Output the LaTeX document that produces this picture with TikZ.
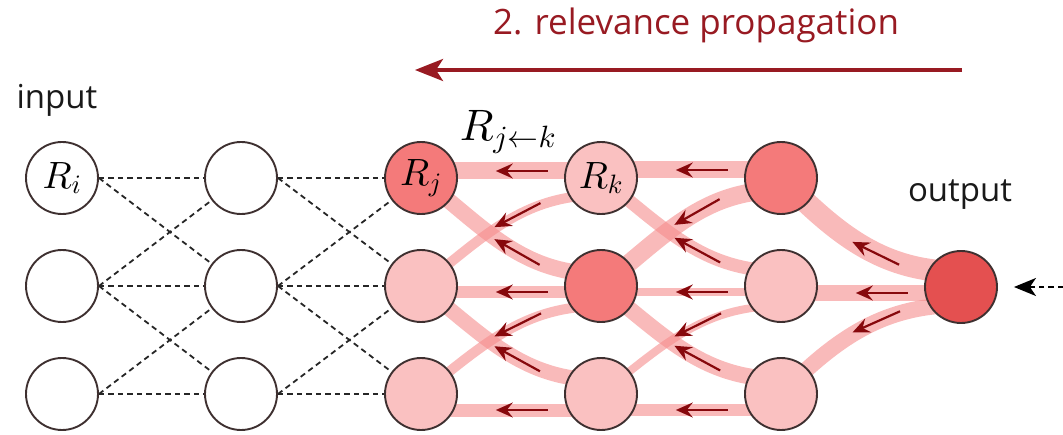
\documentclass[tikz,border=0pt]{standalone}
\usepackage{fontspec}
\setsansfont{Open Sans}
\DeclareFontShape{OML}{cmm}{m}{it}{<-7>cmmi5 <7-10>cmmi7 <10->cmmi10}{}
\DeclareFontShape{OMS}{cmsy}{m}{n}{<-7>cmsy5 <7-10>cmsy7 <10->cmsy10}{}
\DeclareFontShape{OT1}{cmr}{m}{n}{<-7>cmr5 <7-10>cmr7 <10->cmr10}{}
\usetikzlibrary{arrows.meta,decorations.markings}
\pgfdeclarelayer{bands}
\pgfdeclarelayer{fg}
\pgfsetlayers{bands,main,fg}
\definecolor{bandc}{RGB}{245,140,140}
\definecolor{nlight}{RGB}{250,193,193}
\definecolor{nmed}{RGB}{244,122,122}
\definecolor{ndark}{RGB}{228,80,80}
\definecolor{arrc}{RGB}{135,8,12}
\definecolor{titlec}{RGB}{152,26,34}
\definecolor{edgec}{RGB}{62,48,48}
\tikzset{
  neuron/.style={circle, minimum size=72pt, inner sep=0pt, draw=edgec, line width=1.9pt, fill=white, font=\fontsize{38}{42}\selectfont},
  band/.style={draw=bandc, draw opacity=0.6, line width=#1pt, line cap=butt},
  flowmark/.style={decorate, decoration={markings, mark=at position #1 with {\draw[arrc, line width=2.2pt, -{Stealth[length=17pt,width=15pt,inset=6pt]}] (26pt,0pt) -- (-26pt,0pt);}}},
  dline/.style={draw=black!85, line width=1.8pt, dash pattern=on 5.5pt off 4pt},
  lab/.style={font=\sffamily\fontsize{33}{38}\selectfont, text=black!90},
}
\newcommand\flow[3]{\begin{pgfonlayer}{bands}\draw[band=#1] #3;\end{pgfonlayer}\path[flowmark=#2] #3;}
\begin{document}
\begin{tikzpicture}[x=1pt,y=1pt]
\useasboundingbox (0,0) rectangle (1063,434);
\begin{pgfonlayer}{fg}
\node[neuron] (n11) at (62,256) {$R_i$};
\node[neuron] (n12) at (62,148) {};
\node[neuron] (n13) at (62,40) {};
\node[neuron] (n21) at (241,256) {};
\node[neuron] (n22) at (241,148) {};
\node[neuron] (n23) at (241,40) {};
\node[neuron,fill=nmed] (n31) at (421,256) {$R_j$};
\node[neuron,fill=nlight] (n32) at (421,148) {};
\node[neuron,fill=nlight] (n33) at (421,40) {};
\node[neuron,fill=nlight] (n41) at (601,256) {$R_k$};
\node[neuron,fill=nmed] (n42) at (601,148) {};
\node[neuron,fill=nlight] (n43) at (601,40) {};
\node[neuron,fill=nmed] (n51) at (781,256) {};
\node[neuron,fill=nlight] (n52) at (781,148) {};
\node[neuron,fill=nlight] (n53) at (781,40) {};
\node[neuron,fill=ndark] (out) at (961,147) {};
\end{pgfonlayer}
% dashed forward connections
\foreach \a/\b in {1/2,2/3}{
  \draw[dline] (n\a1.east) -- (n\b1.west);
  \draw[dline] (n\a2.east) -- (n\b2.west);
  \draw[dline] (n\a3.east) -- (n\b3.west);
  \draw[dline] (n\a1.east) -- (n\b2);
  \draw[dline] (n\a2.east) -- (n\b1);
  \draw[dline] (n\a2.east) -- (n\b3);
  \draw[dline] (n\a3.east) -- (n\b2);
}
% relevance flows col3 - col4
\flow{17}{0.56}{([yshift=7pt]n31.center) -- ([yshift=7pt]n41.center)}
\flow{16}{0.58}{(n31.center) to[out=-38,in=180] ([yshift=12pt]n42.center)}
\flow{10}{0.58}{(n32.center) to[out=38,in=180] ([yshift=-17pt]n41.center)}
\flow{12}{0.56}{([yshift=-6pt]n32.center) -- ([yshift=-6pt]n42.center)}
\flow{15}{0.58}{(n32.center) to[out=-38,in=180] ([yshift=14pt]n43.center)}
\flow{10}{0.58}{(n33.center) to[out=38,in=180] ([yshift=-20pt]n42.center)}
\flow{13}{0.56}{([yshift=-16pt]n33.center) -- ([yshift=-16pt]n43.center)}
% col4 - col5
\flow{17}{0.56}{([yshift=8pt]n41.center) -- ([yshift=8pt]n51.center)}
\flow{13}{0.58}{(n41.center) to[out=-38,in=180] ([yshift=15pt]n52.center)}
\flow{18}{0.58}{(n42.center) to[out=38,in=180] ([yshift=-12pt]n51.center)}
\flow{8}{0.56}{([yshift=-6pt]n42.center) -- ([yshift=-6pt]n52.center)}
\flow{16}{0.58}{(n42.center) to[out=-38,in=180] ([yshift=15pt]n53.center)}
\flow{8}{0.58}{(n43.center) to[out=38,in=180] ([yshift=-20pt]n52.center)}
\flow{12}{0.56}{([yshift=-16pt]n43.center) -- ([yshift=-16pt]n53.center)}
% col5 - output
\flow{22}{0.58}{(n51.center) to[out=-45,in=180] ([yshift=15pt]out.center)}
\flow{16}{0.56}{([yshift=-7pt]n52.center) -- ([yshift=-6pt]out.center)}
\flow{16}{0.58}{(n53.center) to[out=45,in=180] ([yshift=-18pt]out.center)}
% labels
\node[lab] (inlab) at (57,334) {input};
\node[lab] (outlab) at (960,239) {output};
\node[font=\fontsize{44}{48}\selectfont] (rjk) at (508,302) {$R_{j\leftarrow k}$};
\node[font=\sffamily\fontsize{35}{40}\selectfont, text=titlec] (title) at (696,409) {2. relevance propagation};
% big arrow
\coordinate (ta) at (962,364);
\coordinate (tb) at (415,364);
\draw[titlec, line width=4pt, -{Stealth[length=28pt,width=22pt,inset=7pt]}] (ta) -- (tb);
% input arrow
\coordinate (inR) at (1063,147);
\draw[dline, draw=black, line width=1.8pt, -{Stealth[length=22pt,width=18pt,inset=6pt]}] (inR) -- ([xshift=16pt]out.east);
\end{tikzpicture}
\end{document}
